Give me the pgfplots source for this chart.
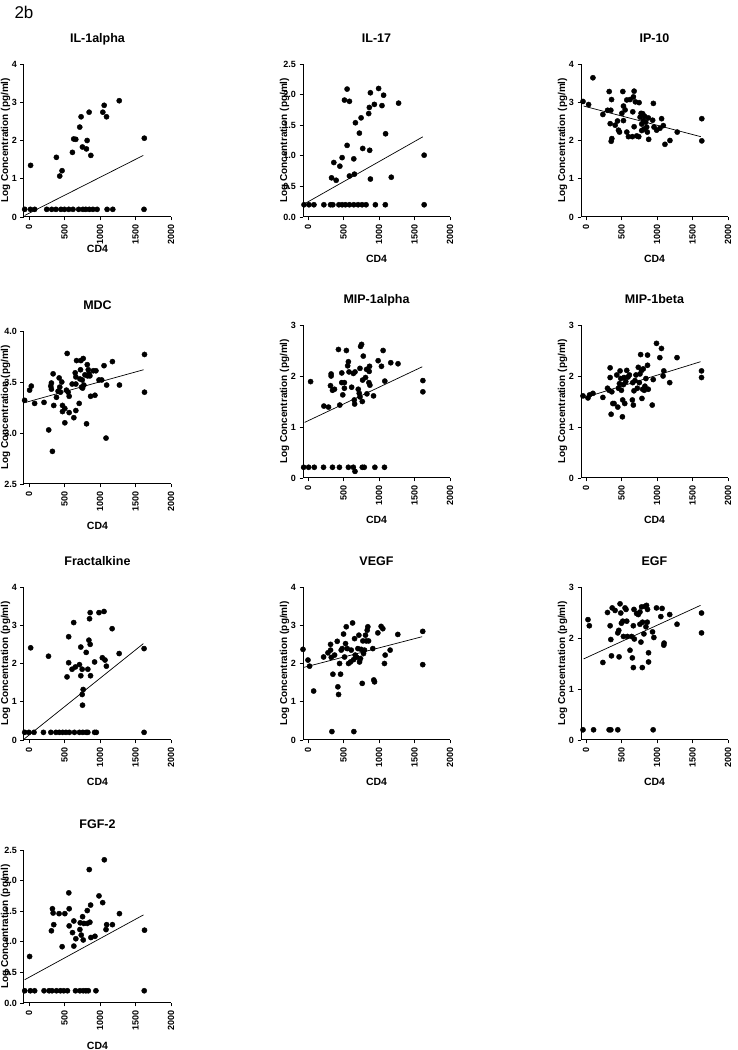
\documentclass[border=0pt]{standalone}
\usepackage{fontspec}
\setmainfont{Liberation Sans}
\usepackage{pgfplots}
\pgfplotsset{compat=1.18}
\pgfplotsset{
  prism/.style={
    scale only axis, width=147pt, height=153pt,
    xmin=-70, xmax=2000, clip=false,
    axis x line*=bottom, axis y line*=left,
    axis line style={line width=1pt},
    every tick/.style={black, line width=0.9pt},
    tick align=outside, major tick length=3.5pt,
    xtick={0,500,1000,1500,2000},
    scaled ticks=false,
    /pgf/number format/assume math mode=true,
    /pgf/number format/set thousands separator={},
    tick label style={font=\bfseries\fontsize{9}{10}\selectfont},
    xticklabel style={rotate=90, anchor=east},
    xlabel={CD4}, ylabel={Log Concentration (pg/ml)},
    xlabel style={at={(axis description cs:0.5,0)}, anchor=base, yshift=-46pt, font=\bfseries\fontsize{10.5}{12}\selectfont},
    ylabel style={at={(axis description cs:-0.125,0.5)}, anchor=center, font=\bfseries\fontsize{10}{12}\selectfont},
    title style={at={(axis description cs:0.5,1)}, anchor=base, yshift=15pt, font=\bfseries\fontsize{12.5}{14}\selectfont},
  },
  onedec/.style={yticklabel style={/pgf/number format/.cd, fixed, fixed zerofill, precision=1}},
  dots/.style={only marks, mark=*, mark size=2.6pt, black, mark options={fill=black, draw=black}},
  fit/.style={no marks, black, line width=0.7pt},
}
\begin{document}
\begin{tikzpicture}
\useasboundingbox (0,0) rectangle (738pt,1050pt);
\node[anchor=base west, font=\fontsize{17}{20}\selectfont] at (11pt,1031pt) {2b};

% IL-1alpha
\begin{axis}[prism, at={(24pt,833pt)}, anchor=south west, title={IL-1alpha},
  ymin=0, ymax=4, ytick={0,1,2,3,4}, xlabel style={yshift=10pt}]
\addplot[dots] coordinates {
(-60,0.2) (20,0.2) (80,0.2) (250,0.2) (320,0.2) (380,0.2) (450,0.2) (500,0.2) (560,0.2) (620,0.2) (700,0.2) (760,0.2) (800,0.2) (850,0.2) (900,0.2) (960,0.2) (1100,0.2) (1180,0.2) (1620,0.2)
(23,1.35) (386,1.56) (433,1.07) (466,1.21) (612,1.69) (630,2.04) (659,2.03) (715,2.35) (734,2.62) (753,1.83) (819,2.0) (809,1.78) (871,1.61) (847,2.74) (1040,2.74) (1059,2.92) (1092,2.62) (1271,3.04) (1624,2.06)
};
\addplot[fit] coordinates {(-60,0.04) (1610,1.61)};
\end{axis}

% IL-17
\begin{axis}[prism, onedec, at={(303pt,833pt)}, anchor=south west, title={IL-17},
  ymin=0, ymax=2.5, ytick={0,0.5,1,1.5,2,2.5}]
\addplot[dots] coordinates {
(-56,0.2) (14,0.2) (84,0.2) (224,0.2) (318,0.2) (350,0.2) (435,0.2) (481,0.2) (528,0.2) (584,0.2) (645,0.2) (706,0.2) (762,0.2) (818,0.2) (949,0.2) (1089,0.2) (1636,0.2)
(332,0.64) (364,0.89) (397,0.60) (449,0.83) (481,0.97) (514,1.91) (551,2.09) (551,1.17) (584,1.89) (584,0.67) (645,0.95) (654,0.70) (668,1.54) (724,1.37) (748,1.62) (771,1.12) (855,1.69) (864,1.79) (869,1.09) (879,0.62) (879,2.03) (935,1.84) (995,2.10) (1042,1.82) (1065,1.99) (1093,1.36) (1173,0.65) (1276,1.86) (1636,1.01)
};
\addplot[fit] coordinates {(-42,0.22) (1617,1.31)};
\end{axis}

% IP-10
\begin{axis}[prism, at={(581pt,833pt)}, anchor=south west, title={IP-10},
  ymin=0, ymax=4, ytick={0,1,2,3,4}]
\addplot[dots] coordinates {
(-42,3.02) (37,2.94) (98,3.64) (238,2.68) (304,2.79) (327,3.28) (341,2.44) (360,3.07) (350,2.79) (364,2.05) (355,1.98) (411,2.40) (444,2.51) (458,2.27) (472,2.22) (505,2.71) (519,3.28) (528,2.52) (528,2.90) (551,2.80) (575,3.06) (575,2.22) (598,2.10) (621,3.07) (654,2.10) (659,2.75) (668,3.14) (678,3.29) (678,2.36) (696,3.01) (715,2.12) (743,2.10) (748,2.99) (762,2.61) (776,2.71) (785,2.43) (785,2.26) (799,2.70) (808,2.52) (818,2.30) (827,2.63) (841,2.48) (855,2.35) (864,2.22) (878,2.59) (883,2.03) (939,2.53) (949,2.97) (958,2.35) (995,2.27) (1042,2.32) (1065,2.57) (1089,2.39) (1112,1.90) (1182,2.00) (1285,2.22) (1631,2.57) (1631,1.99)
};
\addplot[fit] coordinates {(-33,2.90) (1617,2.10)};
\end{axis}

% MDC
\begin{axis}[prism, onedec, at={(24pt,566pt)}, anchor=south west, title={MDC},
  ymin=2.5, ymax=4, ytick={2.5,3,3.5,4}]
\addplot[dots] coordinates {
(-61,3.32) (9,3.42) (33,3.46) (80,3.29) (212,3.30) (278,3.03) (307,3.46) (316,3.49) (316,3.43) (330,2.82) (340,3.58) (349,3.27) (387,3.35) (410,3.41) (425,3.54) (434,3.45) (443,3.40) (462,3.50) (472,3.27) (472,3.21) (505,3.10) (505,3.24) (528,3.42) (538,3.78) (552,3.40) (566,3.20) (566,3.36) (608,3.48) (632,3.15) (651,3.59) (660,3.48) (660,3.55) (660,3.22) (670,3.71) (707,3.29) (717,3.53) (726,3.62) (731,3.71) (740,3.45) (750,3.52) (755,3.44) (764,3.73) (773,3.47) (788,3.57) (811,3.09) (821,3.67) (825,3.56) (835,3.62) (844,3.58) (858,3.56) (868,3.36) (906,3.61) (929,3.37) (943,3.61) (986,3.52) (1024,3.52) (1057,3.66) (1085,2.95) (1094,3.47) (1175,3.70) (1274,3.47) (1627,3.77) (1627,3.40)
};
\addplot[fit] coordinates {(-47,3.30) (1613,3.62)};
\end{axis}

% MIP-1alpha
\begin{axis}[prism, at={(303pt,572pt)}, anchor=south west, title={MIP-1alpha},
  ymin=0, ymax=3, ytick={0,1,2,3}]
\addplot[dots] coordinates {
(-61,0.21) (9,0.21) (89,0.21) (219,0.21) (345,0.21) (443,0.21) (569,0.21) (639,0.21) (662,0.13) (765,0.21) (793,0.21) (942,0.21) (1077,0.21)
(37,1.89) (224,1.41) (289,1.39) (317,1.81) (326,2.04) (326,2.00) (345,1.72) (373,1.74) (429,2.52) (448,1.43) (476,2.06) (476,1.87) (490,1.63) (513,1.87) (513,1.76) (541,2.50) (559,2.20) (569,2.28) (578,2.08) (615,1.78) (639,2.05) (652,1.53) (657,1.45) (662,2.08) (708,1.74) (722,1.66) (732,2.15) (732,1.59) (741,2.58) (755,2.62) (765,1.50) (769,1.92) (779,2.39) (811,1.97) (825,2.13) (830,1.65) (858,1.87) (862,2.09) (872,1.82) (867,2.19) (923,1.61) (988,2.30) (1035,2.19) (1058,2.50) (1082,1.90) (1166,2.26) (1268,2.24) (1618,1.91) (1618,1.69)
};
\addplot[fit] coordinates {(-47,1.09) (1608,2.18)};
\end{axis}

% MIP-1beta
\begin{axis}[prism, at={(581pt,572pt)}, anchor=south west, title={MIP-1beta},
  ymin=0, ymax=3, ytick={0,1,2,3}]
\addplot[dots] coordinates {
(-42,1.61) (28,1.57) (51,1.63) (98,1.66) (238,1.58) (303,1.76) (326,1.72) (340,2.16) (340,1.97) (354,1.25) (364,1.69) (378,1.46) (396,1.46) (434,2.02) (448,1.39) (457,1.76) (471,1.85) (480,2.10) (490,1.95) (499,1.72) (513,1.20) (517,1.53) (527,1.83) (536,1.97) (546,1.46) (560,1.89) (574,2.11) (592,1.98) (611,2.02) (653,1.53) (658,1.87) (667,1.43) (676,1.71) (690,1.91) (704,2.02) (723,1.76) (737,2.17) (751,1.87) (760,2.04) (770,2.42) (784,2.11) (788,1.56) (798,1.74) (807,2.14) (821,1.72) (830,1.80) (844,1.95) (867,2.41) (867,2.21) (877,1.74) (933,1.43) (947,1.93) (993,2.64) (1040,2.36) (1063,2.54) (1086,2.00) (1096,2.10) (1179,1.87) (1282,2.36) (1627,2.10) (1627,1.97)
};
\addplot[fit] coordinates {(-33,1.57) (1613,2.28)};
\end{axis}

% Fractalkine
\begin{axis}[prism, at={(24pt,310pt)}, anchor=south west, title={Fractalkine},
  ymin=0, ymax=4, ytick={0,1,2,3,4}]
\addplot[dots] coordinates {
(-60,0.2) (0,0.2) (71,0.2) (204,0.2) (308,0.2) (379,0.2) (427,0.2) (474,0.2) (521,0.2) (569,0.2) (640,0.2) (711,0.2) (758,0.2) (806,0.2) (829,0.2) (924,0.2) (948,0.2) (1621,0.2)
(24,2.41) (275,2.19) (536,1.65) (559,2.70) (559,2.02) (607,1.85) (630,3.07) (654,1.91) (711,1.97) (730,2.43) (730,1.68) (749,1.85) (749,1.19) (763,1.32) (754,0.91) (806,2.29) (829,1.85) (844,2.61) (853,3.17) (862,3.33) (862,2.50) (867,1.68) (924,2.04) (986,3.33) (1033,2.15) (1057,3.36) (1071,2.09) (1090,1.93) (1171,2.91) (1270,2.26) (1621,2.39)
};
\addplot[fit] coordinates {(-65,0.03) (1611,2.52)};
\end{axis}

% VEGF
\begin{axis}[prism, at={(303pt,310pt)}, anchor=south west, title={VEGF},
  ymin=0, ymax=4, ytick={0,1,2,3,4}]
\addplot[dots] coordinates {
(-70,2.37) (0,2.09) (23,1.93) (80,1.28) (220,2.17) (281,2.28) (318,2.50) (318,2.35) (328,2.16) (351,1.72) (337,0.22) (375,2.22) (412,2.58) (421,1.39) (431,1.19) (445,2.00) (459,1.72) (468,2.35) (482,2.39) (501,2.77) (515,2.17) (529,2.52) (539,2.96) (553,2.39) (571,2.00) (599,2.04) (609,2.35) (628,3.06) (642,2.10) (646,0.22) (656,2.65) (665,2.22) (689,2.16) (703,2.39) (717,2.74) (726,2.04) (740,2.13) (749,2.37) (764,1.48) (773,2.59) (782,2.26) (796,2.35) (810,2.74) (820,2.59) (834,2.87) (843,2.96) (853,2.59) (913,2.39) (927,1.57) (937,1.52) (984,2.80) (1030,2.97) (1054,2.91) (1077,2.00) (1087,2.22) (1157,2.35) (1265,2.76) (1616,2.84) (1616,1.97)
};
\addplot[fit] coordinates {(-56,1.90) (1607,2.70)};
\end{axis}

% EGF
\begin{axis}[prism, at={(581pt,310pt)}, anchor=south west, title={EGF},
  ymin=0, ymax=3, ytick={0,1,2,3}]
\addplot[dots] coordinates {
(-42,0.2) (107,0.2) (326,0.2) (350,0.2) (448,0.2) (946,0.2)
(28,2.36) (47,2.24) (238,1.52) (303,2.50) (340,2.24) (350,1.97) (359,1.65) (369,2.59) (410,2.54) (448,2.10) (462,2.15) (466,1.63) (480,2.67) (490,2.49) (499,2.29) (518,2.33) (527,2.03) (550,2.59) (564,2.56) (574,2.33) (583,2.03) (620,1.76) (643,2.03) (653,1.61) (667,1.42) (667,2.24) (676,2.56) (681,1.98) (713,2.48) (737,2.46) (760,2.27) (760,2.51) (774,1.92) (783,2.61) (793,1.42) (797,2.31) (816,2.08) (830,2.62) (844,2.22) (853,2.64) (863,2.31) (867,2.56) (881,1.71) (881,1.53) (937,2.12) (956,2.01) (993,2.59) (1054,2.42) (1072,2.58) (1096,1.86) (1100,1.90) (1179,2.46) (1282,2.27) (1627,2.49) (1627,2.10)
};
\addplot[fit] coordinates {(-33,1.59) (1613,2.64)};
\end{axis}

% FGF-2
\begin{axis}[prism, onedec, at={(24pt,47pt)}, anchor=south west, title={FGF-2},
  ymin=0, ymax=2.5, ytick={0,0.5,1,1.5,2,2.5}]
\addplot[dots] coordinates {
(-60,0.2) (19,0.2) (80,0.2) (212,0.2) (283,0.2) (325,0.2) (387,0.2) (443,0.2) (490,0.2) (542,0.2) (655,0.2) (717,0.2) (764,0.2) (802,0.2) (835,0.2) (943,0.2) (1623,0.2)
(9,0.76) (316,1.18) (330,1.54) (340,1.47) (349,1.28) (424,1.46) (467,0.92) (505,1.46) (561,1.80) (566,1.54) (566,1.26) (613,1.15) (632,1.34) (632,0.93) (660,1.05) (717,1.20) (722,1.31) (736,1.11) (755,1.41) (764,1.03) (773,1.30) (821,1.30) (821,1.51) (849,2.18) (858,1.32) (868,1.60) (872,1.07) (929,1.09) (986,1.75) (1038,1.64) (1061,2.34) (1085,1.20) (1094,1.28) (1175,1.28) (1274,1.46) (1627,1.19)
};
\addplot[fit] coordinates {(-61,0.38) (1613,1.44)};
\end{axis}
\end{tikzpicture}
\end{document}
